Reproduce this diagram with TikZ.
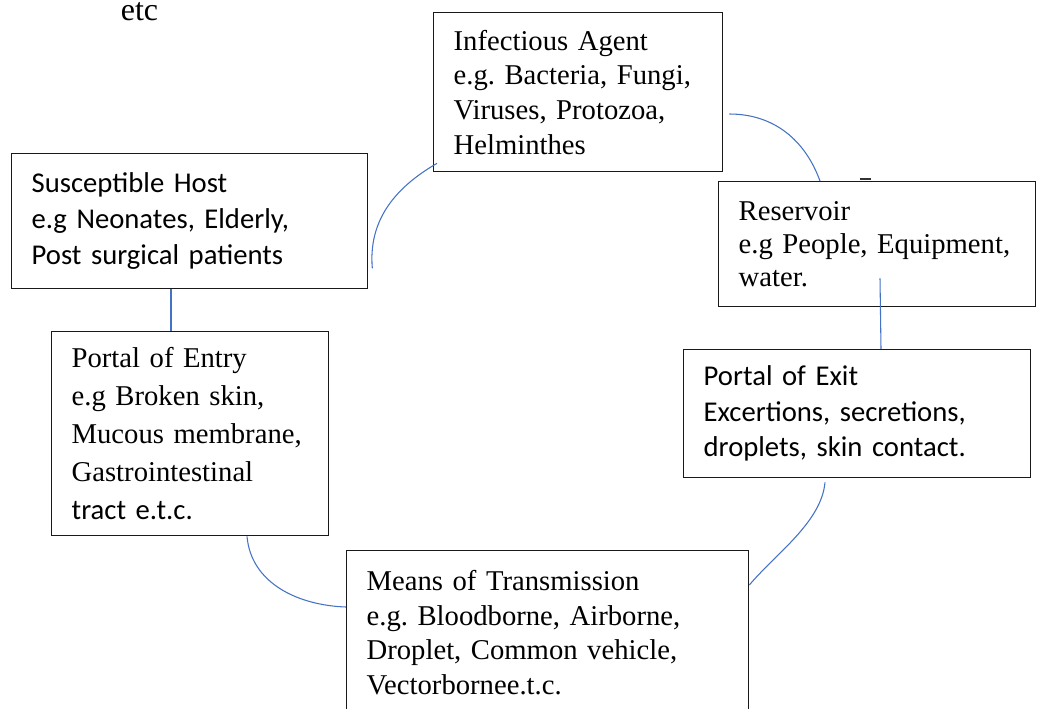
\documentclass[tikz,border=0pt]{standalone}
\usepackage{fontspec}
\setmainfont{Liberation Serif}
\newfontfamily\calibri{Carlito}
\usetikzlibrary{fit, arrows}
\definecolor{linkblue}{HTML}{4472C4}
\frenchspacing
\hyphenpenalty=10000

\begin{document}
\begin{tikzpicture}[
            x = 0.75pt, % one pixel of the original
            y = 0.75pt,
            semithick % line style
        ]

        \tikzstyle{box}=[
        draw = black!90,
        line width = 1pt,
        rectangle,
        anchor = north west,
        align = left,
        inner xsep = 15pt,
        inner ysep = 0pt,
        font = \fontsize{21.5}{26}\selectfont
        ]
        \tikzstyle{link}=[
        draw = linkblue,
        line width = 0.8pt
        ]

        \useasboundingbox (0,0) rectangle (1049,-708);
        \clip (0,0) rectangle (1049,-708);

        \node (etc) [anchor = base west, font = \fontsize{24}{28}\selectfont] at (116,-20) {etc};

        \node (agent) [box, text width = 186.75pt, minimum height = 119.25pt] at (433,-12)
        {Infectious Agent\\ e.g. Bacteria, Fungi,\\ Viruses, Protozoa,\\ Helminthes};
        \node (host) [box, text width = 237pt, minimum height = 101.25pt,
        font = \calibri\fontsize{21.5}{27}\selectfont] at (11,-153)
        {Susceptible Host\\ e.g Neonates, Elderly,\\ Post surgical patients};
        \node (reservoir) [box, text width = 207.75pt, minimum height = 93.75pt,
        font = \fontsize{21.5}{25}\selectfont] at (718,-181)
        {Reservoir\\ e.g People, Equipment,\\ water.};
        \node (exit) [box, text width = 230.25pt, minimum height = 96pt,
        font = \calibri\fontsize{21.5}{26.6}\selectfont] at (683,-349)
        {Portal of Exit\\ Excertions, secretions,\\ droplets, skin contact.};
        \node (entry) [box, text width = 177.75pt, minimum height = 153pt,
        font = \fontsize{21.5}{28.5}\selectfont] at (51,-331)
        {Portal of Entry\\ e.g Broken skin,\\ Mucous membrane,\\ Gastrointestinal\\ {\calibri tract e.t.c.}};
        \node (means) [box, text width = 271.5pt, minimum height = 123pt] at (346,-550)
        {Means of Transmission\\ e.g. Bloodborne, Airborne,\\ Droplet, Common vehicle,\\ Vectorbornee.t.c.};

        % small mark on the reservoir box
        \draw[black!80, line width = 1.5pt] ([shift={(142,2)}]reservoir.north west) -- ++(11,0);

        \path[link] ([shift={(4,9)}]agent.south west) edge[out=210, in=95] ([shift={(4,21)}]host.south east);
        \path[link] ([shift={(6,-102)}]agent.north east) edge[out=0, in=110] ([shift={(102,0)}]reservoir.north west);
        \path[link] ([shift={(162,29)}]reservoir.south west) edge ([shift={(198,0)}]exit.north west);
        \path[link] ([shift={(142,-4)}]exit.south west) edge[out=-95, in=50, looseness=0.8] ([shift={(0,-35)}]means.north east);
        \path[link] ([shift={(196,0)}]entry.south west) edge[out=-85, in=178] ([shift={(0,-57)}]means.north west);
        \path[link] ([shift={(160,0)}]host.south west) edge ([shift={(120,0)}]entry.north west);
    \end{tikzpicture}
\end{document}
